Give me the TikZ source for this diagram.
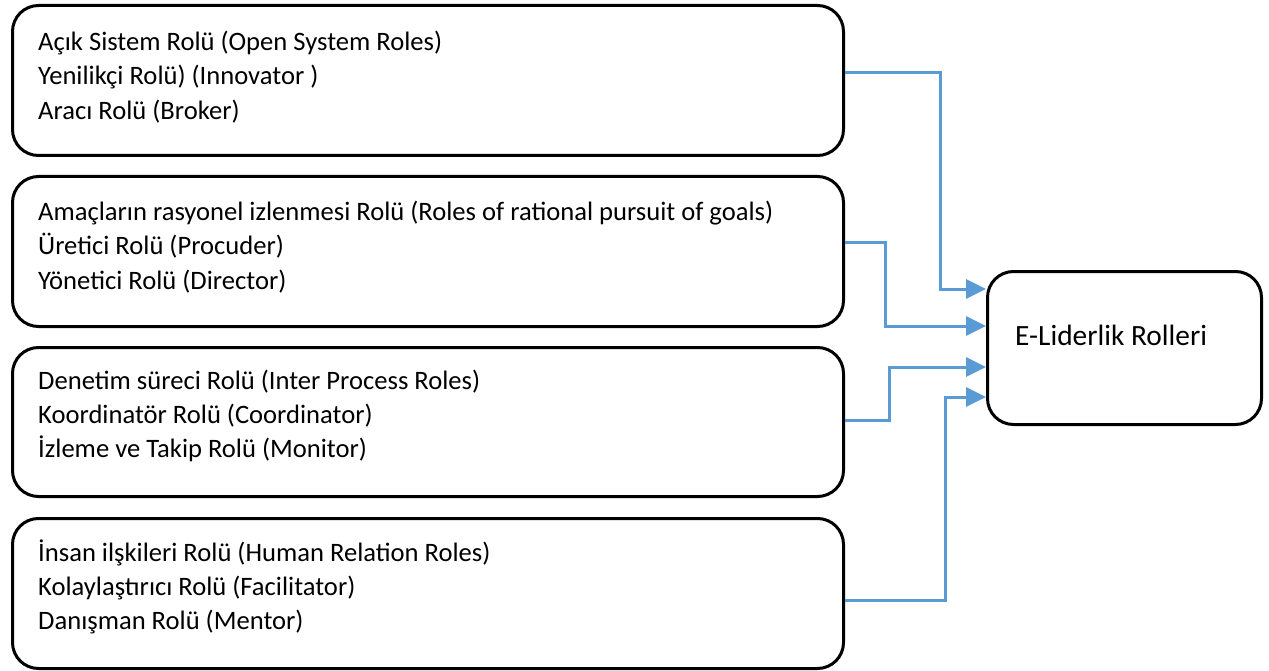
\documentclass[tikz,border=0pt]{standalone}
\usepackage{fontspec}
\setmainfont{Carlito}
\usetikzlibrary{arrows.meta}
\definecolor{linkblue}{HTML}{5B9BD5}
\tikzset{
  rolebox/.style={draw=black, line width=3pt, rounded corners=26pt, anchor=north west, inner sep=0pt},
  roletext/.style={anchor=west, align=left, inner sep=0pt, font=\fontsize{26.6}{34.3}\selectfont},
  conn/.style={draw=linkblue, line width=3pt, -{Triangle[length=20pt,width=19pt]}}
}
\begin{document}
\begin{tikzpicture}[x=1pt,y=-1pt]
\useasboundingbox (0,0) rectangle (1269,671);

% left group boxes
\node[rolebox, minimum width=831pt, minimum height=150pt] (b1) at (11,4) {};
\node[rolebox, minimum width=831pt, minimum height=150pt] (b2) at (11,175) {};
\node[rolebox, minimum width=831pt, minimum height=149pt] (b3) at (11,346) {};
\node[rolebox, minimum width=831pt, minimum height=150pt] (b4) at (11,517) {};

% target box
\node[rolebox, minimum width=274pt, minimum height=153pt] (r) at (986,270) {};

% texts
\node[roletext] (t1) at (38,77) {Açık Sistem Rolü (Open System Roles)\\Yenilikçi Rolü) (Innovator )\\Aracı Rolü (Broker)};
\node[roletext] (t2) at (38,247) {Amaçların rasyonel izlenmesi Rolü (Roles of rational pursuit of goals)\\Üretici Rolü (Procuder)\\Yönetici Rolü (Director)};
\node[roletext] (t3) at (38,416) {Denetim süreci Rolü (Inter Process Roles)\\Koordinatör Rolü (Coordinator)\\İzleme ve Takip Rolü (Monitor)};
\node[roletext] (t4) at (38,587) {İnsan ilşkileri Rolü (Human Relation Roles)\\Kolaylaştırıcı Rolü (Facilitator)\\Danışman Rolü (Mentor)};
\node[roletext, font=\fontsize{29.4}{34}\selectfont] (rt) at (1015,335) {E-Liderlik Rolleri};

% connectors
\draw[conn] (b1.east |- 0,73) -| (940,289) -- (r.west |- 0,289);
\draw[conn] (b2.east |- 0,243) -| (885,326) -- (r.west |- 0,326);
\draw[conn] (b3.east |- 0,420) -| (889,367) -- (r.west |- 0,367);
\draw[conn] (b4.east |- 0,600) -| (945,397) -- (r.west |- 0,397);
\end{tikzpicture}
\end{document}
